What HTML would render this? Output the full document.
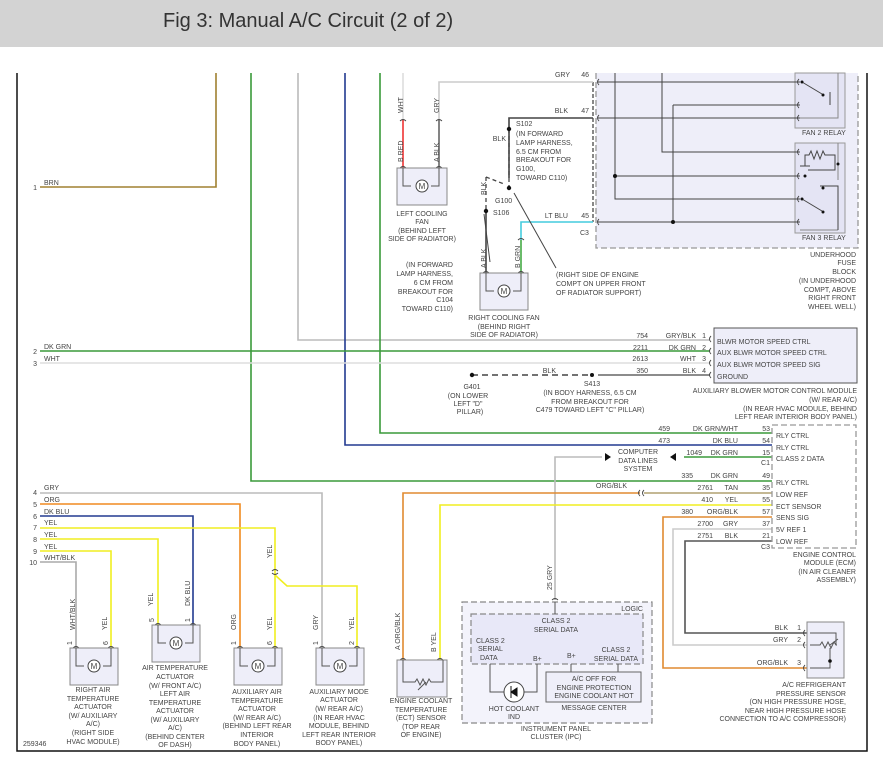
<!DOCTYPE html>
<html><head><meta charset="utf-8"><style>
body{margin:0;background:#fff;width:883px;height:777px;overflow:hidden}
svg{display:block}
text{font-family:"Liberation Sans",sans-serif;font-size:7px;fill:#444}
.t{font-size:20px;fill:#333}
</style></head><body>
<svg width="883" height="777" viewBox="0 0 883 777" xmlns="http://www.w3.org/2000/svg">
<rect x="0" y="0" width="883" height="47" fill="#d3d3d3"/>
<text class="t" x="163" y="27">Fig 3: Manual A/C Circuit (2 of 2)</text>
<!-- frame -->
<path d="M17 73V751H867V73" fill="none" stroke="#111" stroke-width="1.5"/>

<!-- fuse block -->
<rect x="596" y="73" width="262" height="175" fill="#eeeef9"/>
<path d="M596 73V248H858V73" fill="none" stroke="#999" stroke-width="1.3" stroke-dasharray="6,3"/>
<path d="M593 82V222" stroke="#111" stroke-dasharray="4,2" fill="none"/>
<rect x="795" y="73" width="50" height="55" fill="#e4e4f4" stroke="#999"/>
<rect x="795" y="143" width="50" height="90" fill="#e4e4f4" stroke="#999"/>
<path d="M838 73V118H800M838 143V180M838 230H800" stroke="#888" fill="none"/>
<g stroke="#444" fill="none">
<path d="M598 82H800M598 118H800M673 105H800M662 73V152H800M615 73V199H800M615 176H800M598 222H800M673 105V222M830 105V92"/>
<path d="M802 82l20 12M802 199l20 12M820 186h18v44"/>
<path d="M800 166h10M805 166V155l4 0 2-4 3 8 3-8 3 8 3-8 2 4h10V170h-27"/>
</g>
<g fill="#111"><circle cx="615" cy="176" r="2"/><circle cx="673" cy="222" r="2"/><circle cx="802" cy="82" r="1.5"/><circle cx="823" cy="95" r="1.5"/><circle cx="802" cy="199" r="1.5"/><circle cx="823" cy="212" r="1.5"/><circle cx="838" cy="164" r="1.5"/><circle cx="805" cy="176" r="1.5"/><circle cx="823" cy="188" r="1.5"/></g>
<text x="802" y="135">FAN 2 RELAY</text><text x="802" y="240">FAN 3 RELAY</text>
<g text-anchor="end"><text x="856" y="257">UNDERHOOD</text><text x="856" y="265">FUSE</text><text x="856" y="274">BLOCK</text><text x="856" y="283">(IN UNDERHOOD</text><text x="856" y="292">COMPT, ABOVE</text><text x="856" y="300">RIGHT FRONT</text><text x="856" y="309">WHEEL WELL)</text></g>

<!-- long wires from top -->
<g fill="none" stroke-width="1.6">
<path d="M216 73V187H40" stroke="#a08030"/>
<path d="M251 73V481H776" stroke="#3a9a3a"/>
<path d="M298 73V340H710" stroke="#bbb"/>
<path d="M345 73V445H776" stroke="#223a90"/>
<path d="M380 73V433H776" stroke="#3a9a3a"/>
<path d="M40 351H710" stroke="#3a9a3a"/>
<path d="M40 363H710" stroke="#ddd"/>
<path d="M403 73V120" stroke="#ddd"/>
<path d="M403 120V168" stroke="#e33"/>
<path d="M439 120V82H593" stroke="#ccc"/>
<path d="M439 120V168" stroke="#666"/>
<path d="M593 118H509V178" stroke="#444"/>
<path d="M486 211V273" stroke="#444"/>
<path d="M521 273V240" stroke="#4a4"/>
<path d="M521 240V222H593" stroke="#4cd"/>
<path d="M598 375H710" stroke="#666"/>
<path d="M684 457H776" stroke="#3a9a3a"/>
<path d="M555 600V457H602" stroke="#bbb"/>
<path d="M403 660V493H640" stroke="#e08a30"/>
<path d="M644 493H776" stroke="#b0a070"/>
<path d="M440 660V505H776" stroke="#f0ee20"/>
<path d="M776 517H663V668H807" stroke="#e08a30"/>
<path d="M776 529H673V645H807" stroke="#ccc"/>
<path d="M776 541H685V633H807" stroke="#555"/>
<!-- left lower -->
<path d="M40 493H322V648" stroke="#bbb"/>
<path d="M40 504H240V648" stroke="#f08a20"/>
<path d="M40 516H193V625" stroke="#223a90"/>
<path d="M40 528H275V648M275 575L287 586H357V648" stroke="#f0ee20"/>
<path d="M40 539H158V625" stroke="#f0ee20"/>
<path d="M40 551H111V648" stroke="#f0ee20"/>
<path d="M40 562H76V648" stroke="#aaa"/>
</g>
<path d="M472 375H592" stroke="#444" stroke-width="1.6" stroke-dasharray="6,4"/>
<path d="M509 129V186M486 177V211M486 177l18 7" stroke="#444" stroke-width="1.3" stroke-dasharray="4,3" fill="none"/>
<g fill="#111"><circle cx="509" cy="129" r="2.2"/><circle cx="509" cy="188" r="2.2"/><circle cx="486" cy="211" r="2.2"/><circle cx="592" cy="375" r="2"/><circle cx="472" cy="375" r="2.2"/></g>
<path d="M490 262L484 214M556 268L514 193" stroke="#444" fill="none"/>
<path d="M605 453l6 4-6 4zM670 457l6-4v8z" fill="#111"/>

<!-- connector arcs -->
<g fill="none" stroke="#444" stroke-width="0.9">
<path d="M599 79q-3 3 0 6M599 115q-3 3 0 6M599 219q-3 3 0 6M711 336q-3 3 0 6M711 348q-3 3 0 6M711 360q-3 3 0 6M711 372q-3 3 0 6"/>
<path d="M779 430q-3 3 0 6M779 442q-3 3 0 6M779 454q-3 3 0 6M779 478q-3 3 0 6M779 490q-3 3 0 6M779 502q-3 3 0 6M779 514q-3 3 0 6M779 526q-3 3 0 6M779 538q-3 3 0 6M640 490q-3 3 0 6M644 490q-3 3 0 6M805 630q-3 3 0 6M805 642q-3 3 0 6M805 665q-3 3 0 6"/>
<path d="M799 79q-3 3 0 6M799 102q-3 3 0 6M799 115q-3 3 0 6M799 149q-3 3 0 6M799 173q-3 3 0 6M799 196q-3 3 0 6M799 219q-3 3 0 6"/>
<path d="M400 121q3-3 6 0M436 121q3-3 6 0M400 168q3-3 6 0M436 168q3-3 6 0M483 273q3-3 6 0M518 273q3-3 6 0M518 240q3-3 6 0M272 571q3-3 6 0M272 573q3 3 6 0M73 648q3-3 6 0M108 648q3-3 6 0M155 625q3-3 6 0M190 625q3-3 6 0M237 648q3-3 6 0M272 648q3-3 6 0M319 648q3-3 6 0M354 648q3-3 6 0M400 660q3-3 6 0M437 660q3-3 6 0M552 600q3-3 6 0"/>
</g>

<!-- aux blower module -->
<rect x="714" y="328" width="143" height="55" fill="#eeeef9" stroke="#555"/>
<g><text x="717" y="344">BLWR MOTOR SPEED CTRL</text><text x="717" y="355">AUX BLWR MOTOR SPEED CTRL</text><text x="717" y="367">AUX BLWR MOTOR SPEED SIG</text><text x="717" y="379">GROUND</text></g>
<g text-anchor="end"><text x="857" y="393">AUXILIARY BLOWER MOTOR CONTROL MODULE</text><text x="857" y="402">(W/ REAR A/C)</text><text x="857" y="411">(IN REAR HVAC MODULE, BEHIND</text><text x="857" y="419">LEFT REAR INTERIOR BODY PANEL)</text>
<text x="648" y="338">754</text><text x="648" y="350">2211</text><text x="648" y="361">2613</text><text x="648" y="373">350</text>
<text x="696" y="338">GRY/BLK</text><text x="696" y="350">DK GRN</text><text x="696" y="361">WHT</text><text x="696" y="373">BLK</text>
<text x="706" y="338">1</text><text x="706" y="350">2</text><text x="706" y="361">3</text><text x="706" y="373">4</text>
<text x="556" y="373">BLK</text></g>
<g text-anchor="middle"><text x="472" y="389">G401</text><text x="468" y="398">(ON LOWER</text><text x="468" y="406">LEFT "D"</text><text x="470" y="414">PILLAR)</text><text x="592" y="386">S413</text><text x="590" y="395">(IN BODY HARNESS, 6.5 CM</text><text x="590" y="404">FROM BREAKOUT FOR</text><text x="590" y="412">C479 TOWARD LEFT "C" PILLAR)</text></g>

<!-- ECM -->
<rect x="772" y="425" width="84" height="123" fill="#fff" stroke="#999" stroke-width="1.3" stroke-dasharray="6,3"/>
<g><text x="776" y="438">RLY CTRL</text><text x="776" y="450">RLY CTRL</text><text x="776" y="461">CLASS 2 DATA</text><text x="776" y="485">RLY CTRL</text><text x="776" y="497">LOW REF</text><text x="776" y="509">ECT SENSOR</text><text x="776" y="520">SENS SIG</text><text x="776" y="532">5V REF 1</text><text x="776" y="544">LOW REF</text></g>
<g text-anchor="end"><text x="770" y="431">53</text><text x="770" y="443">54</text><text x="770" y="455">15</text><text x="770" y="465">C1</text><text x="770" y="478">49</text><text x="770" y="490">35</text><text x="770" y="502">55</text><text x="770" y="514">57</text><text x="770" y="526">37</text><text x="770" y="538">21</text><text x="770" y="549">C3</text>
<text x="738" y="431">DK GRN/WHT</text><text x="738" y="443">DK BLU</text><text x="738" y="455">DK GRN</text><text x="738" y="478">DK GRN</text><text x="738" y="490">TAN</text><text x="738" y="502">YEL</text><text x="738" y="514">ORG/BLK</text><text x="738" y="526">GRY</text><text x="738" y="538">BLK</text>
<text x="670" y="431">459</text><text x="670" y="443">473</text><text x="702" y="455">1049</text><text x="693" y="478">335</text><text x="713" y="490">2761</text><text x="713" y="502">410</text><text x="693" y="514">380</text><text x="713" y="526">2700</text><text x="713" y="538">2751</text>
<text x="627" y="488">ORG/BLK</text>
<text x="856" y="557">ENGINE CONTROL</text><text x="856" y="565">MODULE (ECM)</text><text x="856" y="574">(IN AIR CLEANER</text><text x="856" y="582">ASSEMBLY)</text></g>
<g text-anchor="middle"><text x="638" y="454">COMPUTER</text><text x="638" y="463">DATA LINES</text><text x="638" y="471">SYSTEM</text></g>

<!-- top labels -->
<g text-anchor="end"><text x="570" y="77">GRY</text><text x="589" y="77">46</text><text x="568" y="113">BLK</text><text x="589" y="113">47</text><text x="568" y="218">LT BLU</text><text x="589" y="218">45</text><text x="506" y="141">BLK</text></g>
<text x="580" y="235">C3</text>
<g><text x="516" y="126">S102</text><text x="516" y="136">(IN FORWARD</text><text x="516" y="145">LAMP HARNESS,</text><text x="516" y="154">6.5 CM FROM</text><text x="516" y="162">BREAKOUT FOR</text><text x="516" y="171">G100,</text><text x="516" y="180">TOWARD C110)</text><text x="493" y="215">S106</text><text x="495" y="203">G100</text>
<text x="556" y="277">(RIGHT SIDE OF ENGINE</text><text x="556" y="286">COMPT ON UPPER FRONT</text><text x="556" y="295">OF RADIATOR SUPPORT)</text></g>
<g text-anchor="end"><text x="453" y="267">(IN FORWARD</text><text x="453" y="276">LAMP HARNESS,</text><text x="453" y="285">6 CM FROM</text><text x="453" y="294">BREAKOUT FOR</text><text x="453" y="302">C104</text><text x="453" y="311">TOWARD C110)</text></g>
<g text-anchor="middle"><text x="422" y="216">LEFT COOLING</text><text x="422" y="224">FAN</text><text x="422" y="233">(BEHIND LEFT</text><text x="422" y="241">SIDE OF RADIATOR)</text><text x="504" y="320">RIGHT COOLING FAN</text><text x="504" y="329">(BEHIND RIGHT</text><text x="504" y="337">SIDE OF RADIATOR)</text></g>
<g font-size="7"><text transform="translate(403,113) rotate(-90)">WHT</text><text transform="translate(439,113) rotate(-90)">GRY</text><text transform="translate(403,162) rotate(-90)">B  RED</text><text transform="translate(439,162) rotate(-90)">A  BLK</text><text transform="translate(486,195) rotate(-90)">BLK</text><text transform="translate(486,268) rotate(-90)">A  BLK</text><text transform="translate(520,268) rotate(-90)">B  GRN</text></g>
<!-- fan boxes -->
<g fill="#eeeef9" stroke="#888"><rect x="397" y="168" width="50" height="37"/><rect x="480" y="273" width="48" height="37"/></g>

<!-- left labels -->
<g><text x="44" y="185">BRN</text><text x="44" y="349">DK GRN</text><text x="44" y="361">WHT</text><text x="44" y="490">GRY</text><text x="44" y="502">ORG</text><text x="44" y="514">DK BLU</text><text x="44" y="525">YEL</text><text x="44" y="537">YEL</text><text x="44" y="549">YEL</text><text x="44" y="560">WHT/BLK</text></g>
<g text-anchor="end"><text x="37" y="190">1</text><text x="37" y="354">2</text><text x="37" y="366">3</text><text x="37" y="495">4</text><text x="37" y="507">5</text><text x="37" y="519">6</text><text x="37" y="530">7</text><text x="37" y="542">8</text><text x="37" y="554">9</text><text x="37" y="565">10</text></g>
<g><text transform="translate(75,630) rotate(-90)">WHT/BLK</text><text transform="translate(107,630) rotate(-90)">YEL</text><text transform="translate(153,606) rotate(-90)">YEL</text><text transform="translate(190,606) rotate(-90)">DK BLU</text><text transform="translate(236,630) rotate(-90)">ORG</text><text transform="translate(272,630) rotate(-90)">YEL</text><text transform="translate(272,558) rotate(-90)">YEL</text><text transform="translate(318,630) rotate(-90)">GRY</text><text transform="translate(354,630) rotate(-90)">YEL</text><text transform="translate(400,650) rotate(-90)">A  ORG/BLK</text><text transform="translate(436,652) rotate(-90)">B  YEL</text><text transform="translate(552,590) rotate(-90)">25      GRY</text>
<text transform="translate(72,645) rotate(-90)">1</text><text transform="translate(108,645) rotate(-90)">6</text><text transform="translate(154,622) rotate(-90)">5</text><text transform="translate(190,622) rotate(-90)">1</text><text transform="translate(236,645) rotate(-90)">1</text><text transform="translate(272,645) rotate(-90)">6</text><text transform="translate(318,645) rotate(-90)">1</text><text transform="translate(354,645) rotate(-90)">2</text></g>
<!-- actuator boxes -->
<g fill="#eeeef9" stroke="#888"><rect x="70" y="648" width="48" height="37"/><rect x="152" y="625" width="48" height="37"/><rect x="234" y="648" width="48" height="37"/><rect x="316" y="648" width="48" height="37"/><rect x="397" y="660" width="50" height="37"/></g>
<!-- motors -->
<g fill="none" stroke="#555">
<path d="M403 168v18h8M439 168v18h-8M486 273v18h8M521 273v18h-8M76 648v18h8M111 648v18h-8M158 625v18h8M193 625v18h-8M240 648v18h8M275 648v18h-8M322 648v18h8M357 648v18h-8"/>
<path d="M403 660v22h12l2-3 3 6 3-6 3 6 3-6 2 3h12v-22M418 690l8-8"/>
</g>
<g fill="#fff" stroke="#444"><circle cx="422" cy="186" r="6"/><circle cx="504" cy="291" r="6"/><circle cx="94" cy="666" r="6"/><circle cx="176" cy="643" r="6"/><circle cx="258" cy="666" r="6"/><circle cx="340" cy="666" r="6"/></g>
<g text-anchor="middle" font-size="8"><text x="422" y="189" style="font-size:8px">M</text><text x="504" y="294" style="font-size:8px">M</text><text x="94" y="669" style="font-size:8px">M</text><text x="176" y="646" style="font-size:8px">M</text><text x="258" y="669" style="font-size:8px">M</text><text x="340" y="669" style="font-size:8px">M</text></g>
<g text-anchor="middle"><text x="93" y="692">RIGHT AIR</text><text x="93" y="701">TEMPERATURE</text><text x="93" y="709">ACTUATOR</text><text x="93" y="718">(W/ AUXILIARY</text><text x="93" y="726">A/C)</text><text x="93" y="735">(RIGHT SIDE</text><text x="93" y="744">HVAC MODULE)</text>
<text x="175" y="670">AIR TEMPERATURE</text><text x="175" y="679">ACTUATOR</text><text x="175" y="688">(W/ FRONT A/C)</text><text x="175" y="696">LEFT AIR</text><text x="175" y="705">TEMPERATURE</text><text x="175" y="713">ACTUATOR</text><text x="175" y="722">(W/ AUXILIARY</text><text x="175" y="730">A/C)</text><text x="175" y="739">(BEHIND CENTER</text><text x="175" y="747">OF DASH)</text>
<text x="257" y="694">AUXILIARY AIR</text><text x="257" y="703">TEMPERATURE</text><text x="257" y="711">ACTUATOR</text><text x="257" y="720">(W/ REAR A/C)</text><text x="257" y="728">(BEHIND LEFT REAR</text><text x="257" y="737">INTERIOR</text><text x="257" y="746">BODY PANEL)</text>
<text x="339" y="694">AUXILIARY MODE</text><text x="339" y="702">ACTUATOR</text><text x="339" y="711">(W/ REAR A/C)</text><text x="339" y="720">(IN REAR HVAC</text><text x="339" y="728">MODULE, BEHIND</text><text x="339" y="737">LEFT REAR INTERIOR</text><text x="339" y="745">BODY PANEL)</text>
<text x="421" y="703">ENGINE COOLANT</text><text x="421" y="712">TEMPERATURE</text><text x="421" y="720">(ECT) SENSOR</text><text x="421" y="729">(TOP REAR</text><text x="421" y="737">OF ENGINE)</text></g>
<text x="23" y="746">259346</text>

<!-- IPC -->
<rect x="462" y="602" width="190" height="121" fill="#f3f3fb" stroke="#888" stroke-width="1.2" stroke-dasharray="6,3"/>
<rect x="471" y="614" width="172" height="50" fill="#e8e8f8" stroke="#888" stroke-width="1.2" stroke-dasharray="6,3"/>
<path d="M555 602V614M490 664V692h14M537 664V692h-14M571 664V672M618 664V672" stroke="#555" fill="none"/>
<circle cx="514" cy="692" r="10" fill="#fff" stroke="#444"/>
<path d="M511 686v12M511 692l6-4v8z" stroke="#111" fill="#111"/>
<rect x="546" y="672" width="95" height="30" fill="#eeeef9" stroke="#666"/>
<text x="643" y="611" text-anchor="end">LOGIC</text>
<g text-anchor="middle"><text x="556" y="623">CLASS 2</text><text x="556" y="632">SERIAL DATA</text><text x="594" y="681">A/C OFF FOR</text><text x="594" y="690">ENGINE PROTECTION</text><text x="594" y="698">ENGINE COOLANT HOT</text><text x="594" y="710">MESSAGE CENTER</text><text x="514" y="711">HOT COOLANT</text><text x="514" y="719">IND</text><text x="556" y="731">INSTRUMENT PANEL</text><text x="556" y="739">CLUSTER (IPC)</text>
<text x="616" y="652">CLASS 2</text><text x="616" y="661">SERIAL DATA</text></g>
<g><text x="476" y="643">CLASS 2</text><text x="478" y="651">SERIAL</text><text x="480" y="660">DATA</text><text x="533" y="661">B+</text><text x="567" y="658">B+</text></g>

<!-- pressure sensor -->
<rect x="807" y="622" width="37" height="56" fill="#eeeef9" stroke="#888"/>
<path d="M810 633h26v12M810 645h10l2-3 3 6 3-6 3 6 3-6 2 3h1M810 668h20v-20M830 645l8-6" stroke="#555" fill="none"/>
<circle cx="830" cy="661" r="1.8" fill="#111"/>
<g text-anchor="end"><text x="788" y="630">BLK</text><text x="801" y="630">1</text><text x="788" y="642">GRY</text><text x="801" y="642">2</text><text x="788" y="665">ORG/BLK</text><text x="801" y="665">3</text>
<text x="846" y="687">A/C REFRIGERANT</text><text x="846" y="696">PRESSURE SENSOR</text><text x="846" y="704">(ON HIGH PRESSURE HOSE,</text><text x="846" y="713">NEAR HIGH PRESSURE HOSE</text><text x="846" y="721">CONNECTION TO A/C COMPRESSOR)</text></g>
</svg>
</body></html>
